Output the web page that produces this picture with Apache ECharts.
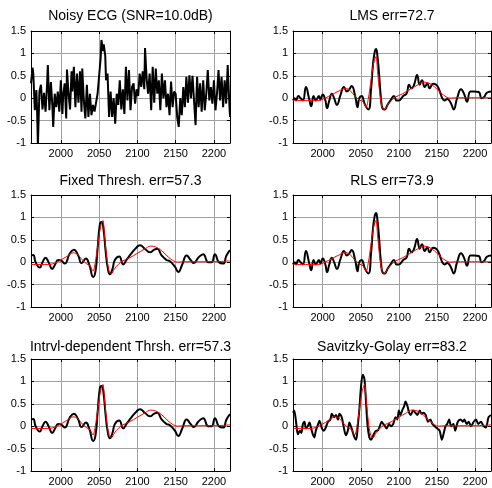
<!DOCTYPE html>
<html>
<head>
<meta charset="utf-8">
<script src="https://cdn.jsdelivr.net/npm/echarts@6/dist/echarts.min.js"></script>
<style>
html,body{margin:0;padding:0;background:#fff;}
#chart{width:492px;height:488px;}
</style>
</head>
<body>
<div id="chart"></div>
<script>
const titles = ['Noisy ECG (SNR=10.0dB)', 'LMS err=72.7', 'Fixed Thresh. err=57.3', 'RLS err=73.9', 'Intrvl-dependent Thrsh. err=57.3', 'Savitzky-Golay err=83.2'];

const noisy = [[1961,0.33],[1963,0.68],[1964,0.55],[1966,-0.27],[1968,0.18],[1969,-0.3],[1970,-1.05],[1972,0.15],[1974,0.3],[1976,-0.25],
[1978,0.12],[1980,-0.3],[1982,0.3],[1983,0.74],[1985,-0.27],[1987,0.36],[1989,-0.2],[1990,-0.64],[1992,0.1],[1994,-0.2],
[1996,0.15],[1998,-0.3],[2000,0.4],[2002,-0.35],[2003,0.05],[2005,0.33],[2007,-0.45],[2008,0.64],[2010,0.1],[2012,-0.25],
[2014,0.6],[2015,0.15],[2017,0.7],[2019,-0.2],[2021,0.55],[2023,-0.1],[2025,0.6],[2027,-0.3],[2028,0.66],[2030,-0.05],
[2032,-0.45],[2034,0.3],[2036,-0.42],[2038,0.1],[2040,-0.38],[2042,-0.15],[2044,-0.3],[2046,-0.1],[2048,0.1],[2050,0.5],
[2052,0.9],[2053,1.3],[2055,1.05],[2056,1.2],[2058,0.95],[2059,0.4],[2061,0.55],[2063,-0.42],[2065,0.15],[2067,-0.42],
[2069,0.0],[2071,-0.57],[2073,0.1],[2075,-0.15],[2077,0.4],[2079,-0.25],[2081,0.2],[2083,-0.35],[2085,0.7],[2087,-0.05],
[2089,0.63],[2091,-0.27],[2093,0.25],[2095,0.33],[2097,-0.12],[2099,0.2],[2101,0.05],[2103,0.55],[2105,0.25],[2107,0.6],
[2109,0.2],[2110,1.12],[2112,0.45],[2114,0.1],[2116,0.55],[2118,-0.27],[2120,0.7],[2122,-0.1],[2124,0.66],[2126,0.1],
[2128,0.4],[2130,-0.27],[2132,0.55],[2134,0.0],[2136,0.4],[2138,-0.2],[2140,0.1],[2142,-0.38],[2144,0.37],[2146,-0.2],
[2148,0.15],[2150,0.1],[2152,-0.42],[2154,-0.64],[2156,0.0],[2158,-0.38],[2160,0.25],[2162,-0.2],[2164,0.48],[2166,-0.1],
[2168,0.51],[2170,0.0],[2172,0.5],[2174,-0.05],[2176,-0.6],[2178,0.48],[2180,-0.2],[2182,0.33],[2184,-0.3],[2186,0.4],
[2188,-0.27],[2190,0.1],[2192,0.63],[2194,-0.05],[2196,0.25],[2198,-0.12],[2200,0.4],[2202,-0.27],[2204,0.1],[2206,0.63],
[2208,-0.05],[2210,0.48],[2212,-0.2],[2214,0.4],[2216,-0.12],[2218,0.74],[2219,0.3],[2221,-0.42]];

const refSignal = [[1961,-0.05],[1985,-0.05],[1992,-0.02],[2000,0.05],[2008,0.13],[2016,0.21],[2022,0.17],[2028,0.05],[2034,-0.04],[2038,-0.08],
[2042,-0.2],[2045,0.0],[2048,0.35],[2052,0.8],[2055,0.93],[2057,0.6],[2060,0.1],[2063,-0.2],[2066,-0.26],[2070,-0.15],
[2075,-0.05],[2080,0.02],[2090,0.1],[2100,0.2],[2110,0.3],[2117,0.36],[2124,0.34],[2132,0.25],[2140,0.12],[2147,0.03],
[2152,0.0],[2160,0.01],[2200,0.01],[2221,0.03]];

const refDelayed = [[1961,-0.05],[1995,-0.05],[2003,0.0],[2012,0.08],[2020,0.15],[2030,0.22],[2036,0.17],[2042,0.05],[2048,-0.04],[2053,-0.08],
[2057,-0.2],[2060,0.0],[2063,0.35],[2067,0.8],[2070,0.93],[2072,0.6],[2075,0.1],[2078,-0.2],[2081,-0.26],[2085,-0.15],
[2090,-0.05],[2095,0.02],[2105,0.1],[2115,0.2],[2125,0.3],[2132,0.36],[2139,0.34],[2147,0.25],[2155,0.12],[2162,0.03],
[2167,0.0],[2175,0.01],[2221,0.01]];

const lmsOut = [[1961,-0.05],[1963,0.0],[1965,-0.05],[1968,0.05],[1971,0.0],[1974,-0.05],[1978,0.25],[1982,0.0],[1985,-0.18],[1988,0.05],
[1991,-0.05],[1995,0.05],[1997,-0.03],[2000,0.08],[2003.5,-0.05],[2005.7,-0.22],[2008.7,-0.05],[2012,0.1],[2015,0.0],[2018.7,-0.15],
[2023,0.05],[2028,0.25],[2031.7,0.15],[2035,0.2],[2038,0.27],[2042.6,0.05],[2045.7,-0.2],[2048,0.0],[2051,0.05],[2055.6,-0.15],
[2060,-0.25],[2063.5,0.2],[2066,0.75],[2068.5,1.05],[2070,1.1],[2071.5,1.0],[2074,0.55],[2076.5,0.0],[2079,-0.24],[2081.5,-0.25],
[2085,-0.15],[2089,-0.05],[2093.5,0.05],[2097,-0.05],[2100,-0.05],[2105.7,0.05],[2110,0.1],[2113.5,0.3],[2116.5,0.22],[2120,0.3],
[2124,0.52],[2127.4,0.3],[2130.4,0.4],[2134,0.25],[2137.4,0.33],[2140.4,0.22],[2144.8,0.32],[2149,0.3],[2152.6,0.2],[2157,0.0],
[2160,-0.05],[2163.5,-0.02],[2168,-0.1],[2172,-0.25],[2176.5,0.0],[2181.7,0.2],[2186,0.08],[2189.5,-0.08],[2194,0.15],[2199,0.15],
[2204.8,0.14],[2208.7,0.0],[2212,0.03],[2215.6,0.12],[2221,0.15]];

const rlsOut = lmsOut;

const fixedOut = [[1961,0.15],[1964,0.16],[1967,0.0],[1972.5,-0.12],[1976,0.0],[1980,0.1],[1984,0.0],[1988.7,-0.15],[1992.5,-0.05],[1996.5,0.05],
[2001,0.03],[2005,-0.03],[2011.8,0.2],[2017,0.28],[2022.7,0.15],[2027,-0.02],[2032.7,0.08],[2037,-0.05],[2042.3,-0.33],[2045.3,-0.2],
[2048,0.3],[2051,0.85],[2053.2,0.9],[2055.3,0.8],[2058.8,0.2],[2061,-0.1],[2064,-0.27],[2067.5,-0.15],[2070.6,0.05],[2076.3,0.13],
[2081.5,-0.05],[2085.8,0.05],[2092.4,0.2],[2098.9,0.33],[2103.3,0.38],[2109.8,0.3],[2116.3,0.22],[2122,0.28],[2126,0.3],[2131.6,0.15],
[2138,0.05],[2142.5,0.02],[2149,-0.1],[2153.4,-0.22],[2158.6,-0.05],[2164.3,0.15],[2169.5,0.05],[2173.9,-0.02],[2179.5,0.1],[2186,0.18],
[2192.6,0.0],[2197,0.0],[2201.3,0.18],[2206.5,0.0],[2212,-0.03],[2216.4,0.15],[2221,0.27]];

const intrvlOut = fixedOut;

const sgOut = [[1961,0.3],[1962.5,0.35],[1965,0.1],[1967.4,-0.18],[1970,-0.1],[1972,-0.15],[1974,0.05],[1976,0.1],[1978,-0.05],[1980.4,0.0],
[1982.6,0.08],[1984.8,-0.05],[1987,-0.18],[1989,-0.25],[1991,-0.1],[1993.5,0.02],[1995.7,0.12],[1999,-0.05],[2001.3,-0.1],[2003.5,-0.05],
[2007,0.1],[2010,0.15],[2012,0.28],[2015,0.2],[2017.4,0.25],[2020,0.15],[2022,0.28],[2025,0.2],[2028,-0.05],[2030.4,-0.2],
[2033,-0.1],[2035,0.08],[2038,-0.05],[2041.7,-0.25],[2044,-0.3],[2046,0.0],[2048,0.35],[2050.4,0.9],[2052.6,1.15],[2054.8,1.05],
[2057,0.5],[2059,0.0],[2061.3,-0.25],[2063.5,-0.3],[2066.5,-0.2],[2070,-0.1],[2072,-0.1],[2075,0.0],[2077.4,0.1],[2079.6,0.05],
[2081.7,0.0],[2084,-0.05],[2087,0.05],[2089.6,0.0],[2092.6,0.05],[2095.7,0.2],[2098,0.15],[2100,0.35],[2102,0.25],[2104.3,0.35],
[2107,0.45],[2108.7,0.55],[2111.3,0.45],[2113.5,0.3],[2115.6,0.25],[2118.7,0.35],[2121.7,0.3],[2124.3,0.25],[2127.4,0.35],[2129.6,0.28],
[2132.6,0.3],[2135.2,0.25],[2138.3,0.1],[2141.3,0.15],[2144,0.05],[2147,0.0],[2150.4,-0.05],[2153.5,-0.1],[2156.5,-0.3],[2159,-0.15],
[2161.3,0.0],[2163.5,0.05],[2166,0.15],[2168.7,0.0],[2171.7,0.05],[2174,-0.1],[2177.4,0.1],[2181,0.15],[2184,0.1],[2186,0.15],
[2189,0.05],[2191.7,0.1],[2194.8,0.0],[2198.3,0.1],[2201.3,0.15],[2204.3,0.05],[2207.8,0.1],[2211.3,0.0],[2214.3,-0.03],[2217.8,0.2],
[2221,0.25]];

const xRange = [1961, 2221];
const yRange = [-1, 1.5];

const panels = [
  {title: titles[0], black: noisy, red: null, smooth: false},
  {title: titles[1], black: lmsOut, red: refDelayed, smooth: 0.5},
  {title: titles[2], black: fixedOut, red: refSignal, smooth: 0.5},
  {title: titles[3], black: rlsOut, red: refDelayed, smooth: 0.5},
  {title: titles[4], black: intrvlOut, red: refSignal, smooth: 0.5},
  {title: titles[5], black: sgOut, red: refSignal, smooth: 0.3}
];

const FONT = '"Liberation Sans", Arial, Helvetica, sans-serif';
const colLeft = [31, 293];
const colWidth = [199, 198];
const rowTop = [31, 195, 359];
const plotH = 112;
const titleY = [16, 181, 347];

const grids = [], xAxes = [], yAxes = [], series = [], graphics = [];
panels.forEach((p, i) => {
  const col = i % 2, row = Math.floor(i / 2);
  grids.push({left: colLeft[col], top: rowTop[row], width: colWidth[col], height: plotH, containLabel: false});
  const axisLine = {show: true, onZero: false, lineStyle: {color: '#000', width: 1}};
  const tick = {show: true, inside: true, length: 3, lineStyle: {color: '#000'}};
  xAxes.push({type: 'value', gridIndex: i, min: xRange[0], max: xRange[1], splitNumber: 5, position: 'bottom',
    axisLine, axisTick: tick,
    axisLabel: {show: true, color: '#000', fontSize: 11, fontFamily: FONT, margin: 5, showMinLabel: false, showMaxLabel: false,
      formatter: v => String(v)},
    splitLine: {show: true, lineStyle: {color: '#a0a0a0', width: 1}}});
  xAxes.push({type: 'value', gridIndex: i, min: xRange[0], max: xRange[1], splitNumber: 5, position: 'top',
    axisLine, axisTick: tick, axisLabel: {show: false}, splitLine: {show: false}});
  yAxes.push({type: 'value', gridIndex: i, min: yRange[0], max: yRange[1], interval: 0.5, position: 'left',
    axisLine, axisTick: tick,
    axisLabel: {show: true, color: '#000', fontSize: 11, fontFamily: FONT, margin: 5, formatter: v => String(v)},
    splitLine: {show: true, lineStyle: {color: '#a0a0a0', width: 1}}});
  yAxes.push({type: 'value', gridIndex: i, min: yRange[0], max: yRange[1], interval: 0.5, position: 'right',
    axisLine, axisTick: tick, axisLabel: {show: false}, splitLine: {show: false}});
  series.push({type: 'line', xAxisIndex: 2 * i, yAxisIndex: 2 * i, data: p.black, showSymbol: false, symbol: 'none',
    smooth: p.smooth, lineStyle: {color: '#000', width: 2}, z: 3, animation: false});
  if (p.red) {
    series.push({type: 'line', xAxisIndex: 2 * i, yAxisIndex: 2 * i, data: p.red, showSymbol: false, symbol: 'none',
      smooth: 0.3, lineStyle: {color: '#ff0000', width: 1}, z: 4, animation: false});
  }
  graphics.push({type: 'text', x: colLeft[col] + colWidth[col] / 2, y: titleY[row],
    style: {text: p.title, fill: '#000', font: '14px ' + FONT, align: 'center', verticalAlign: 'middle'}});
});

const chart = echarts.init(document.getElementById('chart'), null, {renderer: 'canvas'});
chart.setOption({
  animation: false,
  backgroundColor: '#fff',
  grid: grids,
  xAxis: xAxes,
  yAxis: yAxes,
  series: series,
  graphic: graphics
});
</script>
</body>
</html>
